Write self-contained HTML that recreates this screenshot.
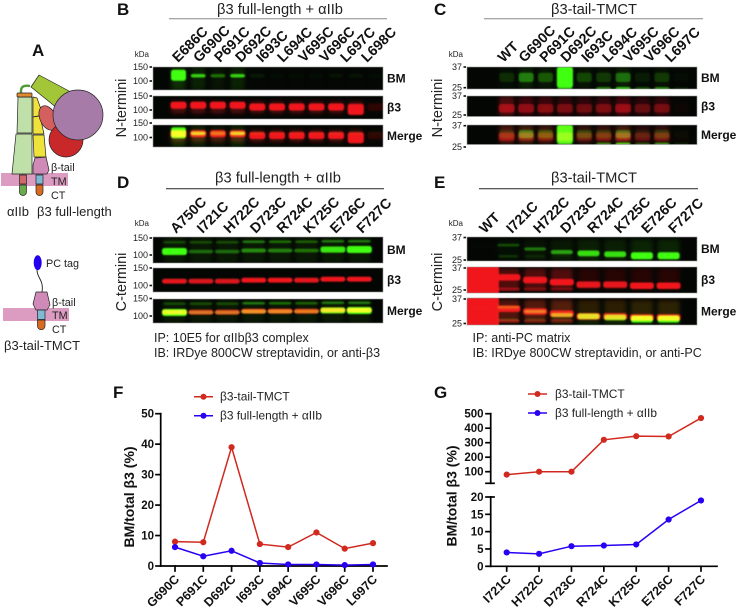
<!DOCTYPE html>
<html lang="en">
<head>
<meta charset="utf-8">
<title>Cysteine scanning western blots and quantification</title>
<style>
html,body{margin:0;padding:0;background:#fff;}
svg{display:block;font-family:"Liberation Sans",sans-serif;filter:blur(0.3px);}
</style>
</head>
<body>
<svg id="fig" xmlns="http://www.w3.org/2000/svg" width="738" height="609" viewBox="0 0 738 609">
<defs>
<filter id="soft" x="-10%" y="-30%" width="120%" height="160%"><feGaussianBlur stdDeviation="0.9"/></filter>
<filter id="softer" x="-10%" y="-30%" width="120%" height="160%"><feGaussianBlur stdDeviation="2.2"/></filter>
</defs>
<rect width="738" height="609" fill="#fff"/>

<g font-weight="700" font-size="17" fill="#111">
<text x="32" y="56">A</text>
<text x="117" y="15">B</text>
<text x="434" y="15">C</text>
<text x="117" y="188">D</text>
<text x="434" y="188">E</text>
<text x="113" y="398">F</text>
<text x="434" y="398">G</text>
</g>

<g stroke="#222" stroke-width="0.7" stroke-linejoin="round">
<rect x="1" y="173" width="67" height="13" fill="#dc9cc2" stroke="none"/>
<path d="M21 93 Q20 84 30 86" fill="none" stroke="#4f9a34" stroke-width="2.4"/>
<polygon points="18,97 32,97 32,133 17,133" fill="#bfe0a8"/>
<polygon points="16,134 32,134 32,174 12,174" fill="#bfe0a8"/>
<rect x="17" y="93" width="15" height="4" rx="1" fill="#e08a30"/>
<polygon points="33,97 37,98 43,115 33,117" fill="#efe23a"/>
<polygon points="33,117 40,116 44,134 33,134" fill="#efe23a"/>
<polygon points="33,135 44,135 46,157 34,157" fill="#efe23a"/>
<polygon points="35,158 46,157 49,170 47,174 33,174 33,165" fill="#d08ab8"/>
<ellipse cx="48" cy="118" rx="8" ry="13" transform="rotate(-25 48 118)" fill="#d45f5f"/>
<circle cx="66" cy="140" r="17" fill="#c8282a"/>
<polygon points="39,75 31,87 57,108 84,99" fill="#a2c637"/>
<circle cx="78" cy="115" r="25" fill="#a67ba8"/>
<rect x="19.500" y="175" width="7" height="9" fill="#d06a6a"/>
<rect x="36" y="175" width="7" height="9" fill="#7fb9d4"/>
<path d="M19.500 185 h7 v7 a3.500 3.500 0 0 1 -7 0 z" fill="#6cab4c"/>
<path d="M36 185 h7 v7 a3.500 3.500 0 0 1 -7 0 z" fill="#d86a22"/>
</g>
<g font-size="10.800" fill="#222">
<text x="51" y="171">β-tail</text>
<text x="51" y="185">TM</text>
<text x="51" y="199">CT</text>
<text x="7" y="216" font-size="13">αIIb</text>
<text x="37" y="216" font-size="13">β3 full-length</text>
</g>

<g stroke="#222" stroke-width="0.7" stroke-linejoin="round">
<rect x="3" y="308" width="66" height="13" fill="#dc9cc2" stroke="none"/>
<ellipse cx="37.700" cy="262.700" rx="4" ry="7.500" fill="#2200ee" stroke="none"/>
<path d="M37 270 C37 278 44 280 42 292" fill="none" stroke="#222" stroke-width="0.9"/>
<polygon points="36,292 47,292 50,305 47,310 36,310 33,304" fill="#d08ab8"/>
<rect x="37.500" y="310" width="7.500" height="9.500" fill="#7fb9d4"/>
<path d="M37.500 320 h7.500 v6 a3.750 3.750 0 0 1 -7.500 0 z" fill="#d86a22"/>
</g>
<g font-size="10.800" fill="#222">
<text x="46" y="267">PC tag</text>
<text x="52" y="306">β-tail</text>
<text x="52" y="319">TM</text>
<text x="52" y="333">CT</text>
<text x="4" y="350" font-size="13">β3-tail-TMCT</text>
</g>

<g font-size="14.700" fill="#222" text-anchor="middle">
<text x="280" y="14">β3 full-length + αIIb</text>
<text x="594" y="14">β3-tail-TMCT</text>
<text x="278" y="182.500">β3 full-length + αIIb</text>
<text x="594" y="182.500">β3-tail-TMCT</text>
</g>
<g stroke-width="1">
<line x1="169" x2="387" y1="18.700" y2="18.700" stroke="#888"/>
<line x1="484" x2="703" y1="18.700" y2="18.700" stroke="#888"/>
<line x1="166" x2="384" y1="188.700" y2="188.700" stroke="#222"/>
<line x1="479" x2="698" y1="188.700" y2="188.700" stroke="#222"/>
</g>

<g font-size="14.500" fill="#222" text-anchor="middle">
<text transform="translate(126,108) rotate(-90)">N-termini</text>
<text transform="translate(442,108) rotate(-90)">N-termini</text>
<text transform="translate(126,282) rotate(-90)">C-termini</text>
<text transform="translate(442,282) rotate(-90)">C-termini</text>
</g>

<g font-size="12.500" fill="#222">
<text x="154" y="342">IP: 10E5 for αIIbβ3 complex</text>
<text x="154" y="357">IB: IRDye 800CW streptavidin, or anti-β3</text>
<text x="472.500" y="342">IP: anti-PC matrix</text>
<text x="472.500" y="357">IB: IRDye 800CW streptavidin, or anti-PC</text>
</g>

<g id="blots"></g>
<g id="chartF"></g>
<g id="chartG"></g>
</svg>

<script>
/* ---------- Chart data ---------- */
const fCategories = ['G690C','P691C','D692C','I693C','L694C','V695C','V696C','L697C'];
const fTailValues = [8, 7.8, 39, 7.2, 6.2, 11, 5.7, 7.5];
const fFullValues = [6.2, 3.2, 5, 1, 0.5, 0.5, 0.3, 0.5];
const fTicks = [0, 10, 20, 30, 40, 50];

const gCategories = ['I721C','H722C','D723C','R724C','K725C','E726C','F727C'];
const gTailValues = [80, 100, 100, 320, 345, 343, 470];
const gFullValues = [4, 3.6, 5.8, 6, 6.3, 13.5, 19];
const gUpperTicks = [100, 200, 300, 400, 500];
const gLowerTicks = [0, 5, 10, 15, 20];

const legendLabels = ['β3-tail-TMCT', 'β3 full-length + αIIb'];

/* ---------- Blot labels and lane intensities ---------- */
const bLanes = ['E686C','G690C','P691C','D692C','I693C','L694C','V695C','V696C','L697C','L698C'];
const cLanes = ['WT','G690C','P691C','D692C','I693C','L694C','V695C','V696C','L697C'];
const dLanes = ['A750C','I721C','H722C','D723C','R724C','K725C','E726C','F727C'];
const eLanes = ['WT','I721C','H722C','D723C','R724C','K725C','E726C','F727C'];
const bGreen = [1, .72, .35, .72, .06, .02, .03, .02, .04, .04, .02];
const bRed = [1, 1, 1, 1, 1, 1, 1, 1, 1, 1, .14];
const cGreen = [.13, .42, .28, 1, .22, .17, .36, .07, .17, .02];
const cGreen2 = [0, 0, 0, .55, 0, .5, .8, .3, .55, .1];
const cRed = [.75, .62, .58, .5, .45, .52, .68, .4, .48, .03];
const dGreenLow = [1, .36, .36, .5, .45, .4, .9, 1];
const dGreenHigh = [.22, .24, .24, .42, .38, .32, .42, .42];
const dRed = [.95, .9, .9, 1, 1, .95, 1, 1];
const eGreen = [.01, .26, .42, .6, .85, .85, 1, 1];
const eGreenLow = [0, .16, .1, .05, 0, 0, 0, 0];
const eRedMain = [0, 1, 1, 1, .95, .95, 1, 1];
const eRedLow = [0, .55, .4, .35, 0, 0, 0, 0];

const NS = 'http://www.w3.org/2000/svg';
function make(tag, attrs, parent, text) {
  const node = document.createElementNS(NS, tag);
  for (const k in attrs) node.setAttribute(k, attrs[k]);
  if (text !== undefined) node.textContent = text;
  parent.appendChild(node);
  return node;
}

/* ---------- Blots ---------- */
const RED = '#f0141e', GREEN = '#3cff10';
const blotRoot = document.getElementById('blots');
let clipCount = 0;

function blotRow(panel, rowIndex, rowName) {
  const rect = panel.rows[rowIndex];
  clipCount += 1;
  const clipId = 'clip' + clipCount;
  const defs = make('clipPath', {id: clipId}, blotRoot);
  make('rect', {x: panel.x, y: rect[0], width: panel.w, height: rect[1]}, defs);
  const group = make('g', {'clip-path': 'url(#' + clipId + ')', style: 'isolation:isolate'}, blotRoot);
  
  
  make('rect', {x: panel.x, y: rect[0], width: panel.w, height: rect[1], fill: '#040604'}, group);
  const showRed = rowIndex !== 0, showGreen = rowIndex !== 1;
  if (showRed) {
    const haze = make('g', {filter: 'url(#softer)'}, group);
    const layer = make('g', {filter: 'url(#soft)'}, group);
    panel.red(layer, haze, rect);
  }
  if (showGreen) {
    const wrap = make('g', {style: 'mix-blend-mode:screen'}, group);
    const haze = make('g', {filter: 'url(#softer)'}, wrap);
    const layer = make('g', {filter: 'url(#soft)'}, wrap);
    panel.green(layer, haze, rect);
  }
  const frame = make('rect', {x: panel.x, y: rect[0], width: panel.w, height: rect[1], fill: 'none', stroke: '#999', 'stroke-width': .6}, blotRoot);
  
  
}

function band(layer, cx, y, w, h, color, op) {
  if (op <= 0) return;
  make('rect', {x: cx - w / 2, y: y - h / 2, width: w, height: h, rx: 2.5, fill: color, opacity: op}, layer);
}

const panels = [
  { id: 'b', x: 153, w: 230, rows: [[67,23],[96,23],[125,22]], start: 178.500, step: 19.700, labels: bLanes, labelStep: 21, labelStart: 178, labelY: 63,
    green(layer, haze, r) {
      bGreen.forEach((v, i) => {
        const cx = this.start + this.step * i;
        band(haze, cx, r[0] + r[1] * .5, 14, r[1], GREEN, v * .16);
        band(layer, cx, r[0] + r[1] * (v === 1 ? .36 : .38), 15, v === 1 ? 11 : 3.500, GREEN, Math.min(1, v * 1.1));
      });
    },
    red(layer, haze, r) {
      bRed.forEach((v, i) => {
        const cx = this.start + this.step * i;
        const tall = i === 9;
        const low = i >= 4 ? .08 : 0;
        band(haze, cx, r[0] + r[1] * .5, 15, 12, RED, v * .3);
        band(layer, cx, r[0] + r[1] * (tall ? .58 : .4 + low), 16, tall ? 11 : 7, RED, v);
      });
    } },
  { id: 'c', x: 467, w: 230, rows: [[67,22],[96,20.500],[125,19.500]], start: 506.700, step: 19.400, labels: cLanes, labelStep: 20.900, labelStart: 503.500, labelY: 63,
    green(layer, haze, r) {
      cGreen.forEach((v, i) => {
        const cx = this.start + this.step * i;
        band(haze, cx, r[0] + r[1] * .5, 14, r[1], GREEN, v * .25);
        band(layer, cx, r[0] + r[1] * .47, v > .9 ? 16 : 15, v > .9 ? r[1] * .95 : r[1] * .42, GREEN, v);
        band(layer, cx, r[0] + r[1] * .97, 15, 2.500, GREEN, cGreen2[i]);
      });
    },
    red(layer, haze, r) {
      cRed.forEach((v, i) => {
        const cx = this.start + this.step * i;
        band(haze, cx, r[0] + r[1] * .5, 15, r[1], RED, v * .4);
        band(layer, cx, r[0] + r[1] * .6, 16, r[1] * .42, RED, v * .75);
      });
    } },
  { id: 'd', x: 153, w: 230, rows: [[237,26],[268,24],[299,24]], start: 174.500, step: 26.400, labels: dLanes, labelStep: 26.600, labelStart: 176, labelY: 234,
    green(layer, haze, r) {
      dGreenLow.forEach((v, i) => {
        const cx = this.start + this.step * i;
        const lift = i > 5 ? 2 : i > 2 ? 1 : 0;
        band(haze, cx, r[0] + r[1] * .5, 22, r[1], GREEN, .07);
        band(layer, cx, r[0] + r[1] * .56 - lift, 25, 3 + 4 * v * v, GREEN, v);
        band(layer, cx, r[0] + r[1] * .2 - lift / 2, 23, 2.500, GREEN, dGreenHigh[i]);
      });
    },
    red(layer, haze, r) {
      dRed.forEach((v, i) => {
        const cx = this.start + this.step * i;
        const lift = i > 5 ? 2 : i > 2 ? 1 : 0;
        band(layer, cx, r[0] + r[1] * .55 - lift, 25, 4.800, RED, v);
      });
    } },
  { id: 'e', x: 467, w: 230, rows: [[237,24],[267,26],[298,27]], start: 481.700, step: 26.700, labels: eLanes, labelStep: 27, labelStart: 485, labelY: 234,
    green(layer, haze, r) {
      const fracs = [.4, .34, .5, .63, .68, .72, .78, .78];
      eGreen.forEach((v, i) => {
        const cx = this.start + this.step * i;
        band(haze, cx, r[0] + r[1] * .6, 22, r[1], GREEN, v * .12);
        band(layer, cx, r[0] + r[1] * fracs[i], 22, 2.500 + 4.500 * v * v, GREEN, v);
        band(layer, cx, r[0] + r[1] * .8, 20, 2.500, GREEN, eGreenLow[i]);
      });
    },
    red(layer, haze, r) {
      const fracs = [.5, .4, .5, .58, .68, .68, .72, .72];
      band(layer, 482, r[0] + r[1] / 2, 34, r[1] + 4, RED, 1);
      eRedMain.forEach((v, i) => {
        const cx = this.start + this.step * i;
        band(haze, cx, r[0] + r[1] * .45, 22, r[1] * .8, RED, i === 0 ? 0 : .14 + (i < 4 ? .18 : 0));
        band(layer, cx, r[0] + r[1] * fracs[i], 24, 6.500, RED, v);
        band(layer, cx, r[0] + r[1] * .85, 23, 3.500, RED, eRedLow[i]);
      });
    } }
];

const rowNames = ['bm', 'beta3', 'merge'];
const rowTitles = ['BM', 'β3', 'Merge'];
panels.forEach(panel => {
  rowNames.forEach((name, idx) => blotRow(panel, idx, name));
  rowTitles.forEach((title, idx) => {
    const r = panel.rows[idx];
    const t = make('text', {x: panel.x + panel.w + 4, y: r[0] + r[1] / 2 + 4, 'font-size': 12, 'font-weight': 700, fill: '#111'}, blotRoot, title);
    
    
  });
  panel.labels.forEach((label, i) => {
    const x = panel.labelStart + panel.labelStep * i;
    const t = make('text', {transform: 'translate(' + x + ',' + panel.labelY + ') rotate(-45)', 'font-size': 14.200, 'font-weight': 700, fill: '#111'}, blotRoot, label);
    
    
  });
});

/* kDa markers */
const kdaLabels = [
  {x: 150, y: 57, kda: true},
  {x: 464, y: 57, kda: true},
  {x: 150, y: 226, kda: true},
  {x: 464, y: 226, kda: true}
];
kdaLabels.forEach(item => {
  const t = make('text', {x: item.x - 1, y: item.y, 'font-size': 8, 'text-anchor': 'end', fill: '#222'}, blotRoot, 'kDa');
  
  
});
const markerSets = [
  {right: 148, rows: [['150',67],['100',81],['150',96],['100',110],['150',123],['100',137.500]]},
  {right: 462, rows: [['37',67],['25',87.700],['37',96],['25',115],['37',125.700],['25',147]]},
  {right: 148, rows: [['150',238],['100',255],['150',268],['100',285.500],['150',298.500],['100',316]]},
  {right: 462, rows: [['37',237.500],['25',260],['37',268],['25',290],['37',299],['25',323.500]]}
];
markerSets.forEach(set => set.rows.forEach(row => {
  const t = make('text', {x: set.right, y: row[1] + 3, 'font-size': 9, 'text-anchor': 'end', fill: '#222'}, blotRoot, row[0]);
  
  
  const m = make('rect', {x: set.right + 1.500, y: row[1] - .8, width: 2.500, height: 1.600, fill: '#111'}, blotRoot);
  
  
}));

/* ---------- Chart helpers ---------- */
const TAIL = '#d2291f', FULL = '#2a00f2';

function drawSeries(root, values, xf, yf, color, name) {
  const pts = values.map((v, i) => xf(i) + ',' + yf(v, i)).join(' ');
  const line = make('polyline', {points: pts, fill: 'none', stroke: color, 'stroke-width': 1.500}, root);
  
  
  values.forEach((v, i) => {
    const c = make('circle', {cx: xf(i), cy: yf(v, i), r: 3.100, fill: color}, root);
    
    
  });
}

function drawLegend(root, lineX0, y0, y1, textX) {
  [[y0, TAIL, 0], [y1, FULL, 1]].forEach(item => {
    const l = make('line', {x1: lineX0, x2: lineX0 + 19, y1: item[0], y2: item[0], stroke: item[1], 'stroke-width': 1.500}, root);
    
    
    const c = make('circle', {cx: lineX0 + 9.500, cy: item[0], r: 3, fill: item[1]}, root);
    
    
    const t = make('text', {x: textX, y: item[0] + 4, 'font-size': 11.900, fill: '#222'}, root, legendLabels[item[2]]);
    
    
  });
}

function axisLine(root, x1, y1, x2, y2, name) {
  const l = make('line', {x1, y1, x2, y2, stroke: '#000', 'stroke-width': 1.700, 'stroke-linecap': 'square'}, root);
  
  
}

function tickLabel(root, x, y, str) {
  const t = make('text', {x, y: y + 4, 'font-size': 11.500, 'font-weight': 700, 'text-anchor': 'end', fill: '#111'}, root, str);
  
  
}

function catLabel(root, x, y, str) {
  const t = make('text', {transform: 'translate(' + x + ',' + y + ') rotate(-45)', 'font-size': 12.500, 'font-weight': 700, 'text-anchor': 'end', fill: '#111'}, root, str);
  
  
}

/* ---------- Chart F ---------- */
const rootF = document.getElementById('chartF');
const fX = i => 175 + (373 - 175) * i / (fCategories.length - 1);
const fY = v => 566 - v * (566 - 413.700) / 50;
axisLine(rootF, 160.700, fY(50), 160.700, fY(0), 'y-axis-f');
axisLine(rootF, 160.700, fY(0), 387, fY(0), 'x-axis-f');
fTicks.forEach(v => {
  axisLine(rootF, 156, fY(v), 160.700, fY(v), 'y-tick-f');
  tickLabel(rootF, 154, fY(v), String(v));
});
fCategories.forEach((c, i) => {
  axisLine(rootF, fX(i), 566, fX(i), 571, 'x-tick-f');
  catLabel(rootF, fX(i) + 5, 580, c);
});
drawSeries(rootF, fTailValues, fX, fY, TAIL, 'tail-tmct-f');
drawSeries(rootF, fFullValues, fX, fY, FULL, 'full-length-f');
drawLegend(rootF, 194, 396.700, 415.700, 220);
const titleF = make('text', {transform: 'translate(134,497) rotate(-90)', 'font-size': 14, 'font-weight': 700, 'text-anchor': 'middle', fill: '#111'}, rootF, 'BM/total β3 (%)');



/* ---------- Chart G ---------- */
const rootG = document.getElementById('chartG');
const gX = i => 506.700 + (701 - 506.700) * i / (gCategories.length - 1);
const gYUpper = v => 471.700 - (v - 100) * 14.500 / 100;
const gYLower = v => 566.300 - v * (566.300 - 497) / 20;
axisLine(rootG, 490.700, gYUpper(500), 490.700, gYUpper(20), 'y-axis-upper-g');
axisLine(rootG, 490.700, gYLower(20), 490.700, gYLower(0), 'y-axis-lower-g');
axisLine(rootG, 490.700, gYLower(0), 717, gYLower(0), 'x-axis-g');
gUpperTicks.forEach(v => {
  axisLine(rootG, 486, gYUpper(v), 490.700, gYUpper(v), 'y-tick-upper-g');
  tickLabel(rootG, 483.500, gYUpper(v), String(v));
});
axisLine(rootG, 486, gYUpper(20), 494, gYUpper(20), 'axis-break-upper-g');
gLowerTicks.forEach(v => {
  axisLine(rootG, 486, gYLower(v), 490.700, gYLower(v), 'y-tick-lower-g');
  tickLabel(rootG, 483.500, gYLower(v), String(v));
});
axisLine(rootG, 490.700, gYLower(20), 494, gYLower(20), 'axis-break-lower-g');
gCategories.forEach((c, i) => {
  axisLine(rootG, gX(i), 566.300, gX(i), 571, 'x-tick-g');
  catLabel(rootG, gX(i) + 5, 580, c);
});
drawSeries(rootG, gTailValues, gX, gYUpper, TAIL, 'tail-tmct-g');
drawSeries(rootG, gFullValues, gX, gYLower, FULL, 'full-length-g');
drawLegend(rootG, 528, 394, 413, 555);
const titleG = make('text', {transform: 'translate(456.700,496) rotate(-90)', 'font-size': 14, 'font-weight': 700, 'text-anchor': 'middle', fill: '#111'}, rootG, 'BM/total β3 (%)');


</script>
</body>
</html>
